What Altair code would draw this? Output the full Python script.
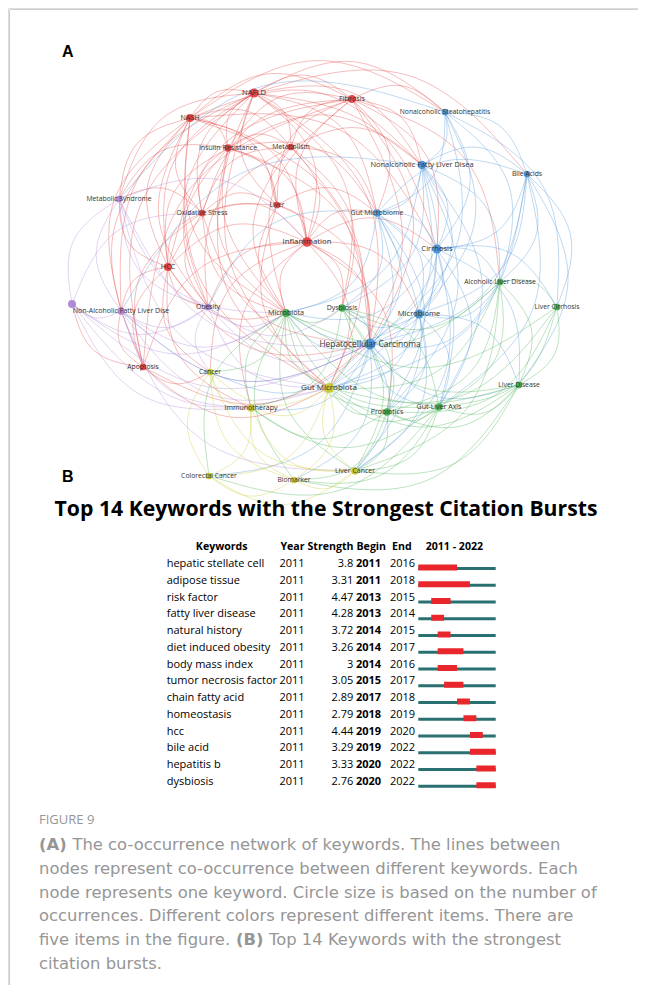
import altair as alt
import numpy as np
import pandas as pd

W, H = 630, 977   # plot area (page is 646 x 993 with 8px margin)
M = 8

# ---------------- Panel A : keyword co-occurrence network ----------------
node_ids = ["R1", "R2", "R3", "R4", "R5", "R6", "R7", "R8", "R9", "R10",
            "B1", "B2", "B3", "B4", "B5", "B6", "B7",
            "P1", "P2", "P3", "P4",
            "G1", "G2", "G3", "G4", "G5", "G6", "G7",
            "Y1", "Y2", "Y3", "Y4", "Y5", "Y6"]
node_labels = ["NAFLD", "NASH", "Insulin Resistance", "Metabolism", "Oxidative Stress",
               "Liver", "Inflammation", "HCC", "Fibrosis", "Apoptosis",
               "Nonalcoholic Steatohepatitis", "Nonalcoholic Fatty Liver Disea", "Bile Acids",
               "Gut Microbiome", "Cirrhosis", "Microbiome", "Hepatocellular Carcinoma",
               "Metabolic Syndrome", "Non-Alcoholic Fatty Liver Dise", "", "Obesity",
               "Microbiota", "Dysbiosis", "Alcoholic Liver Disease", "Liver Cirrhosis",
               "Liver Disease", "Probiotics", "Gut-Liver Axis",
               "Cancer", "Immunotherapy", "Gut Microbiota", "Colorectal Cancer",
               "Biomarker", "Liver Cancer"]
node_x = [254, 190, 228, 291, 202, 277, 307, 168, 352, 143,
          445, 422, 527, 377, 437, 419, 370,
          119, 121, 72, 208,
          286, 342, 500, 557, 519, 387, 439,
          210, 251, 329, 209, 294, 355]
node_y = [93, 118, 148, 147, 213, 205, 242, 267, 99, 367,
          112, 165, 174, 213, 249, 314, 344,
          199, 311, 304, 307,
          313, 308, 282, 307, 385, 412, 407,
          372, 408, 388, 476, 480, 471]
node_cluster = ["red"] * 10 + ["blue"] * 7 + ["purple"] * 4 + ["green"] * 7 + ["yellow"] * 6
node_weight = [10, 9, 8.5, 8, 8, 8, 10.5, 9, 9, 8,
               8, 9.5, 8, 8.5, 10, 10, 12,
               8, 8.5, 9, 8,
               9, 8.5, 8, 8, 8, 8.5, 8.5,
               8, 8.5, 11, 8, 8, 8.5]
cluster_colors = {"red": "#e23d3d", "blue": "#4690d4", "purple": "#aa82d3",
                  "green": "#3fae4a", "yellow": "#c8c82a"}

edge_lists = {
    "R1": "R2 R3 R4 R5 R6 R7 R8 R9 R10 B1 B2 B3 B4 B5 B7 P1 P2 P4 G1 G2 Y3",
    "R2": "R3 R4 R5 R6 R7 R8 R9 R10 B1 B2 B5 B7 P1 P2 P4 G1 Y3",
    "R3": "R4 R5 R6 R7 R8 R9 B2 B4 B7 P1 P4 G1 Y3",
    "R4": "R5 R6 R7 R9 B2 B4 P4 G1 G2 Y3",
    "R5": "R6 R7 R8 R9 R10 B7 P1 P4 G1",
    "R6": "R7 R8 R9 B4 B7 G1 Y3",
    "R7": "R8 R9 R10 B4 B5 B6 B7 P4 G1 G2 G6 Y1 Y2 Y3",
    "R8": "R9 R10 B7 P1 P2 P4 G1 Y1 Y2",
    "R9": "R10 B1 B2 B4 B5 B7 G1 G3 Y3",
    "R10": "B7 P2 P3 Y1 Y3",
    "B1": "B2 B3 B4 B5 B6 B7 P1 G3 G4",
    "B2": "B3 B4 B5 B6 B7 P2 G1 G2 G3 G6 G7 Y3",
    "B3": "B4 B5 B6 B7 G3 G4 G5 G7 Y3",
    "B4": "B5 B6 B7 P4 G1 G2 G6 G7 Y3 Y6",
    "B5": "B6 B7 G1 G3 G4 G5 G7 Y3 Y6",
    "B6": "B7 G1 G2 G3 G5 G6 G7 Y3 Y6",
    "B7": "P2 G1 G2 G3 G5 G6 G7 Y1 Y2 Y3 Y4 Y5 Y6",
    "P1": "P2 P3 P4 R7 B7 G1 Y3",
    "P2": "P3 P4 B7 G1 Y2 Y3 Y6",
    "P3": "P4 R5 B7 G1 Y2 Y3",
    "P4": "B7 G1 G2 Y1 Y3",
    "G1": "G2 G3 G4 G5 G6 G7 Y1 Y2 Y3 Y4 Y5 Y6",
    "G2": "G3 G5 G6 G7 Y2 Y3 Y6",
    "G3": "G4 G5 G6 G7 Y3 Y6",
    "G4": "G5 G6 G7 Y3",
    "G5": "G6 G7 Y3 Y5 Y6",
    "G6": "G7 Y2 Y3 Y5 Y6",
    "G7": "Y2 Y3 Y4 Y5 Y6",
    "Y1": "Y2 Y3 Y4 Y5 Y6",
    "Y2": "Y3 Y4 Y5 Y6",
    "Y3": "Y4 Y5 Y6",
    "Y4": "Y5 Y6",
    "Y5": "Y6",
}

# ---------------- Panel B : citation bursts ----------------
kw = ["hepatic stellate cell", "adipose tissue", "risk factor", "fatty liver disease",
      "natural history", "diet induced obesity", "body mass index", "tumor necrosis factor",
      "chain fatty acid", "homeostasis", "hcc", "bile acid", "hepatitis b", "dysbiosis"]
kw_year = [2011, 2011, 2011, 2011, 2011, 2011, 2011, 2011, 2011, 2011, 2011, 2011, 2011, 2011]
kw_strength = ["3.8", "3.31", "4.47", "4.28", "3.72", "3.26", "3", "3.05", "2.89", "2.79",
               "4.44", "3.29", "3.33", "2.76"]
kw_begin = [2011, 2011, 2013, 2013, 2014, 2014, 2014, 2015, 2017, 2018, 2019, 2019, 2020, 2020]
kw_end = [2016, 2018, 2015, 2014, 2015, 2017, 2016, 2017, 2018, 2019, 2020, 2022, 2022, 2022]
period_start, period_end = 2011, 2022

# ---------------- build tables ----------------
nodes = pd.DataFrame({"id": node_ids, "label": node_labels, "x": node_x, "y": node_y,
                      "w": node_weight,
                      "color": [cluster_colors[c] for c in node_cluster]})
pos = {i: (x, y) for i, x, y in zip(node_ids, node_x, node_y)}
col = dict(zip(node_ids, nodes["color"]))
cx, cy = np.mean(node_x), np.mean(node_y)
rows = []
eid = 0
for s, targets in edge_lists.items():
    for t in targets.split():
        x0, y0 = pos[s]
        x2, y2 = pos[t]
        mx, my = (x0 + x2) / 2, (y0 + y2) / 2
        dx, dy = x2 - x0, y2 - y0
        L = np.hypot(dx, dy)
        nx, ny = -dy / L, dx / L
        c1 = (mx + nx * 0.32 * L, my + ny * 0.32 * L)
        c2 = (mx - nx * 0.32 * L, my - ny * 0.32 * L)
        c = c1 if np.hypot(c1[0] - cx, c1[1] - cy) >= np.hypot(c2[0] - cx, c2[1] - cy) else c2
        for k, (px, py) in enumerate([(x0, y0), c, (x2, y2)]):
            rows.append({"eid": eid, "k": k, "x": px, "y": py, "color": col[s]})
        eid += 1
edges = pd.DataFrame(rows)

table = pd.DataFrame({"row": list(range(len(kw))), "kw": kw, "year": kw_year,
                      "strength": kw_strength, "begin": kw_begin, "end": kw_end,
                      "p0": [period_start] * len(kw), "p1": [period_end] * len(kw)})

net_x = alt.Scale(domain=[M, M + W], range=[0, W])
net_y = alt.Scale(domain=[M, M + H], range=[0, H])
row_y = alt.Scale(domain=[0, 13], range=[564 - M, 781.75 - M])
year_x = alt.Scale(domain=[2011, 2023], range=[418.3 - M, 495.7 - M])

FONT = "Open Sans"
CAP = "DejaVu Sans"


def T(text, x, y, size, color="#000000", weight="normal", align="left", font=FONT):
    return alt.Chart(pd.DataFrame({"t": [text]})).mark_text(
        align=align, baseline="middle", fontSize=size, font=font,
        fontWeight=weight, color=color
    ).encode(x=alt.value(x - M), y=alt.value(y - M), text="t:N")


# frame lines
frame_top = alt.Chart(pd.DataFrame({"a": [0]})).mark_rule(color="#cfcfcf", strokeWidth=1.2).encode(
    x=alt.value(10 - M), x2=alt.value(W), y=alt.value(9.5 - M))
frame_left = alt.Chart(pd.DataFrame({"a": [0]})).mark_rule(color="#cfcfcf", strokeWidth=1.2).encode(
    x=alt.value(9.5 - M), y=alt.value(10 - M), y2=alt.value(H))

edge_layer = alt.Chart(edges).mark_line(interpolate="basis", strokeWidth=0.9, opacity=0.38).encode(
    x=alt.X("x:Q", scale=net_x, axis=None),
    y=alt.Y("y:Q", scale=net_y, axis=None),
    detail="eid:N", order="k:Q",
    color=alt.Color("color:N", scale=None))

node_layer = alt.Chart(nodes).mark_circle(opacity=0.92).encode(
    x=alt.X("x:Q", scale=net_x, axis=None),
    y=alt.Y("y:Q", scale=net_y, axis=None),
    color=alt.Color("color:N", scale=None),
    size=alt.Size("w:Q", scale=alt.Scale(domain=[8, 12], range=[45, 120]), legend=None))

label_layer = alt.Chart(nodes).mark_text(font=FONT, color="#333333", baseline="middle").encode(
    x=alt.X("x:Q", scale=net_x, axis=None),
    y=alt.Y("y:Q", scale=net_y, axis=None),
    text="label:N",
    size=alt.Size("w:Q", scale=alt.Scale(domain=[8, 12], range=[6.8, 8.4]), legend=None))

# table text
tbase = alt.Chart(table)
ry = alt.Y("row:Q", scale=row_y, axis=None)
t_kw = tbase.mark_text(align="left", baseline="middle", fontSize=11, font=FONT).encode(
    x=alt.value(166.7 - M), y=ry, text="kw:N")
t_year = tbase.mark_text(align="left", baseline="middle", fontSize=11, font=FONT).encode(
    x=alt.value(279.5 - M), y=ry, text="year:N")
t_str = tbase.mark_text(align="right", baseline="middle", fontSize=11, font=FONT).encode(
    x=alt.value(353.3 - M), y=ry, text="strength:N")
t_beg = tbase.mark_text(align="left", baseline="middle", fontSize=11, font=FONT, fontWeight="bold").encode(
    x=alt.value(356 - M), y=ry, text="begin:N")
t_end = tbase.mark_text(align="left", baseline="middle", fontSize=11, font=FONT).encode(
    x=alt.value(390 - M), y=ry, text="end:N")

bar_teal = tbase.transform_calculate(p1e="datum.p1 + 1").mark_rule(
    strokeWidth=3, color="#2b7070", yOffset=4.5, strokeCap="butt").encode(
    x=alt.X("p0:Q", scale=year_x, axis=None), x2="p1e:Q", y=ry)
bar_red = tbase.transform_calculate(e1="datum.end + 1").mark_rule(
    strokeWidth=6, color="#e8262b", yOffset=3.5, strokeCap="butt").encode(
    x=alt.X("begin:Q", scale=year_x, axis=None), x2="e1:Q", y=ry)

HS = 10.6
header = [
    T("Keywords", 221.7, 547, HS, weight="bold", align="center"),
    T("Year", 280.5, 547, HS, weight="bold"),
    T("Strength", 307.5, 547, HS, weight="bold"),
    T("Begin", 356.5, 547, HS, weight="bold"),
    T("End", 392, 547, HS, weight="bold"),
    T("2011 - 2022", 425.7, 547, HS, weight="bold"),
]

GRAY = "#969696"
CS = 16.4
cap_y0, cap_dy = 845, 23.8
caption = [
    T("FIGURE 9", 39, 820, 13, color=GRAY),
    T("(A)", 39, cap_y0, CS, color=GRAY, weight="bold", font=CAP),
    T("The co-occurrence network of keywords. The lines between", 72.4, cap_y0, CS, color=GRAY, font=CAP),
    T("nodes represent co-occurrence between different keywords. Each", 39, cap_y0 + cap_dy, CS, color=GRAY, font=CAP),
    T("node represents one keyword. Circle size is based on the number of", 39, cap_y0 + 2 * cap_dy, CS, color=GRAY, font=CAP),
    T("occurrences. Different colors represent different items. There are", 39, cap_y0 + 3 * cap_dy, CS, color=GRAY, font=CAP),
    T("five items in the figure.", 39, cap_y0 + 4 * cap_dy, CS, color=GRAY, font=CAP),
    T("(B)", 236, cap_y0 + 4 * cap_dy, CS, color=GRAY, weight="bold", font=CAP),
    T("Top 14 Keywords with the strongest", 269, cap_y0 + 4 * cap_dy, CS, color=GRAY, font=CAP),
    T("citation bursts.", 39, cap_y0 + 5 * cap_dy, CS, color=GRAY, font=CAP),
]

labels = [
    T("A", 62, 52, 16, weight="bold", font="Liberation Sans"),
    T("B", 62, 477, 16, weight="bold", font="Liberation Sans"),
    T("Top 14 Keywords with the Strongest Citation Bursts", 326, 510, 21.2, weight="bold", align="center"),
]

chart = alt.layer(
    frame_top, frame_left, edge_layer, node_layer, label_layer,
    *labels, *header, t_kw, t_year, t_str, t_beg, t_end, bar_teal, bar_red, *caption
).resolve_scale(x="independent", y="independent", size="independent").properties(
    width=W, height=H, padding=0, autosize=alt.AutoSizeParams(type="none")
).configure_view(stroke=None).configure(background="white")

chart.save("out.html", embed_options={"renderer": "svg", "actions": False})
